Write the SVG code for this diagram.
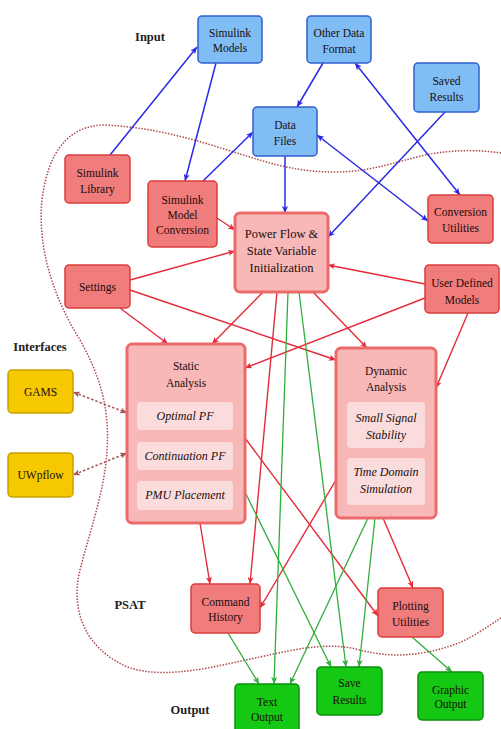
<svg xmlns="http://www.w3.org/2000/svg" width="501" height="729" viewBox="0 0 501 729">
<defs>
<style>
.t{font-family:"Liberation Serif","DejaVu Serif",serif;font-size:11.5px;fill:#1a0d0d;text-anchor:middle}
.it{font-style:italic;font-size:12px}
.lbl{font-family:"Liberation Serif","DejaVu Serif",serif;font-size:12.5px;font-weight:bold;fill:#222;text-anchor:middle}
.blue{fill:#80bdf5;stroke:#2f5fd0;stroke-width:1.5}
.red{fill:#f07c7c;stroke:#dc3c3c;stroke-width:1.5}
.big{fill:#f8b8b8;stroke:#ec6a6a;stroke-width:3}
.inner{fill:#fbdcdc;stroke:none}
.yel{fill:#f6c800;stroke:#c9a000;stroke-width:1.5}
.grn{fill:#14c814;stroke:#0a900a;stroke-width:1.5}
.eb{stroke:#2a2ae6;stroke-width:1.5;fill:none}
.er{stroke:#e42a3a;stroke-width:1.4;fill:none}
.eg{stroke:#2fae3a;stroke-width:1.3;fill:none}
.ed{stroke:#a8585a;stroke-width:1.6;stroke-dasharray:2.5,2;fill:none}
</style>
<marker id="mb" viewBox="0 0 8 8" refX="8" refY="4" markerWidth="7" markerHeight="7" markerUnits="userSpaceOnUse" orient="auto-start-reverse"><path d="M0,0.5 L8,4 L0,7.5 L2,4 z" fill="#2a2ae6"/></marker>
<marker id="mr" viewBox="0 0 8 8" refX="8" refY="4" markerWidth="7" markerHeight="7" markerUnits="userSpaceOnUse" orient="auto-start-reverse"><path d="M0,0.5 L8,4 L0,7.5 L2,4 z" fill="#e42a3a"/></marker>
<marker id="mg" viewBox="0 0 8 8" refX="8" refY="4" markerWidth="7" markerHeight="7" markerUnits="userSpaceOnUse" orient="auto-start-reverse"><path d="M0,0.5 L8,4 L0,7.5 L2,4 z" fill="#2fae3a"/></marker>
<marker id="md" viewBox="0 0 8 8" refX="8" refY="4" markerWidth="7" markerHeight="7" markerUnits="userSpaceOnUse" orient="auto-start-reverse"><path d="M0,0.5 L8,4 L0,7.5 L2,4 z" fill="#a8585a"/></marker>
</defs>
<rect width="501" height="729" fill="#ffffff"/>
<path id="psat-boundary" d="M501,153 C480,150 455,149 425,155 C395,162 370,172 335,172 C300,172 275,165 250,157 C210,145 165,128 105,125 C70,125 48,150 42,200 C37,250 55,300 80,340 C100,375 110,410 107,450 C105,490 90,530 80,570 C70,610 85,650 130,668 C170,680 220,665 260,657 C300,648 330,642 360,650 C390,658 420,656 450,646 C470,640 485,628 501,618" fill="none" stroke="#b04848" stroke-width="1.5" stroke-dasharray="1.5,1.5"/>
<g id="labels">
<text class="lbl" x="150" y="41">Input</text>
<text class="lbl" x="40" y="351">Interfaces</text>
<text class="lbl" x="130" y="609">PSAT</text>
<text class="lbl" x="190" y="714">Output</text>
</g>
<g id="connectors">
<path class="eb" d="M110,155 L197,47" marker-end="url(#mb)"/>
<path class="eb" d="M216,63 L185,181" marker-end="url(#mb)"/>
<path class="eb" d="M203,181 L253,132" marker-end="url(#mb)"/>
<path class="eb" d="M323,63 L297,107" marker-end="url(#mb)"/>
<path class="eb" d="M355,63 L460,195" marker-start="url(#mb)" marker-end="url(#mb)"/>
<path class="eb" d="M317,135 L428,221" marker-start="url(#mb)" marker-end="url(#mb)"/>
<path class="eb" d="M445,112 L328,237" marker-end="url(#mb)"/>
<path class="eb" d="M285,156 L285,213" marker-end="url(#mb)"/>
<path class="er" d="M217,218 L235,230" marker-end="url(#mr)"/>
<path class="er" d="M130,280 L235,251" marker-end="url(#mr)"/>
<path class="er" d="M425,284 L328,265" marker-end="url(#mr)"/>
<path class="er" d="M130,290 L336,360" marker-end="url(#mr)"/>
<path class="er" d="M120,308 L168,344" marker-end="url(#mr)"/>
<path class="er" d="M263,292 L212,344" marker-end="url(#mr)"/>
<path class="er" d="M425,298 L245,368" marker-end="url(#mr)"/>
<path class="er" d="M468,313 L436,388" marker-end="url(#mr)"/>
<path class="er" d="M313,292 L367,348" marker-end="url(#mr)"/>
<path class="er" d="M277,292 L250,584" marker-end="url(#mr)"/>
<path class="er" d="M200,523 L210,584" marker-end="url(#mr)"/>
<path class="er" d="M336,480 L260,608" marker-end="url(#mr)"/>
<path class="er" d="M245,438 L378,616" marker-end="url(#mr)"/>
<path class="er" d="M383,518 L413,588" marker-end="url(#mr)"/>
<path class="eg" d="M288,292 L274,684" marker-end="url(#mg)"/>
<path class="eg" d="M299,292 L346,667" marker-end="url(#mg)"/>
<path class="eg" d="M245,492 L331,667" marker-end="url(#mg)"/>
<path class="eg" d="M368,518 L290,684" marker-end="url(#mg)"/>
<path class="eg" d="M375,518 L359,667" marker-end="url(#mg)"/>
<path class="eg" d="M228,633 L259,684" marker-end="url(#mg)"/>
<path class="eg" d="M412,637 L452,672" marker-end="url(#mg)"/>
<path class="ed" d="M127,413 L73,392" marker-start="url(#md)" marker-end="url(#md)"/>
<path class="ed" d="M127,453 L73,475" marker-start="url(#md)" marker-end="url(#md)"/>
</g>
<g id="simulink-models"><rect class="blue" x="198" y="16" width="64" height="47" rx="4"/><text class="t" x="230" y="37">Simulink</text><text class="t" x="230" y="52">Models</text></g>
<g id="other-data-format"><rect class="blue" x="307" y="16" width="64" height="47" rx="4"/><text class="t" x="339" y="37">Other Data</text><text class="t" x="339" y="53">Format</text></g>
<g id="saved-results"><rect class="blue" x="414" y="63" width="65" height="49" rx="4"/><text class="t" x="446.5" y="85">Saved</text><text class="t" x="446.5" y="101">Results</text></g>
<g id="data-files"><rect class="blue" x="253" y="107" width="64" height="49" rx="4"/><text class="t" x="285" y="129">Data</text><text class="t" x="285" y="145">Files</text></g>
<g id="conversion-utilities"><rect class="red" x="428" y="195" width="65" height="48" rx="4"/><text class="t" x="460.5" y="216">Conversion</text><text class="t" x="460.5" y="232">Utilities</text></g>
<g id="simulink-library"><rect class="red" x="65" y="155" width="65" height="48" rx="4"/><text class="t" x="97.5" y="177">Simulink</text><text class="t" x="97.5" y="193">Library</text></g>
<g id="simulink-model-conversion"><rect class="red" x="148" y="181" width="69" height="66" rx="4"/><text class="t" x="182.5" y="204">Simulink</text><text class="t" x="182.5" y="219">Model</text><text class="t" x="182.5" y="234">Conversion</text></g>
<g id="power-flow"><rect class="big" x="235" y="213" width="93" height="79" rx="5"/><text class="t" x="281.5" y="238" style="font-size:12.5px">Power Flow &amp;</text><text class="t" x="281.5" y="255" style="font-size:12.5px">State Variable</text><text class="t" x="281.5" y="272" style="font-size:12.5px">Initialization</text></g>
<g id="settings"><rect class="red" x="65" y="265" width="65" height="43" rx="4"/><text class="t" x="97.5" y="291">Settings</text></g>
<g id="user-defined-models"><rect class="red" x="425" y="265" width="74" height="48" rx="4"/><text class="t" x="462" y="287">User Defined</text><text class="t" x="462" y="304">Models</text></g>
<g id="static-analysis"><rect class="big" x="127" y="344" width="118" height="179" rx="5"/><text class="t" x="186" y="370">Static</text><text class="t" x="186" y="387">Analysis</text>
<rect class="inner" x="137" y="402" width="96" height="28" rx="4"/><text class="t it" x="185" y="420">Optimal PF</text>
<rect class="inner" x="137" y="442" width="96" height="28" rx="4"/><text class="t it" x="185" y="460">Continuation PF</text>
<rect class="inner" x="137" y="481" width="96" height="29" rx="4"/><text class="t it" x="185" y="499">PMU Placement</text></g>
<g id="dynamic-analysis"><rect class="big" x="336" y="348" width="100" height="170" rx="5"/><text class="t" x="386" y="375">Dynamic</text><text class="t" x="386" y="391">Analysis</text>
<rect class="inner" x="347" y="402" width="78" height="46" rx="4"/><text class="t it" x="386" y="422">Small Signal</text><text class="t it" x="386" y="439">Stability</text>
<rect class="inner" x="347" y="458" width="78" height="47" rx="4"/><text class="t it" x="386" y="476">Time Domain</text><text class="t it" x="386" y="493">Simulation</text></g>
<g id="gams"><rect class="yel" x="8" y="370" width="65" height="43" rx="4"/><text class="t" x="40.5" y="396">GAMS</text></g>
<g id="uwpflow"><rect class="yel" x="8" y="453" width="65" height="44" rx="4"/><text class="t" x="40.5" y="479">UWpflow</text></g>
<g id="command-history"><rect class="red" x="191" y="584" width="69" height="49" rx="4"/><text class="t" x="225.5" y="606">Command</text><text class="t" x="225.5" y="621">History</text></g>
<g id="plotting-utilities"><rect class="red" x="378" y="588" width="65" height="49" rx="4"/><text class="t" x="410.5" y="610">Plotting</text><text class="t" x="410.5" y="626">Utilities</text></g>
<g id="text-output"><rect class="grn" x="235" y="684" width="64" height="50" rx="4"/><text class="t" x="267" y="706">Text</text><text class="t" x="267" y="721">Output</text></g>
<g id="save-results"><rect class="grn" x="317" y="667" width="65" height="48" rx="4"/><text class="t" x="349.5" y="687">Save</text><text class="t" x="349.5" y="704">Results</text></g>
<g id="graphic-output"><rect class="grn" x="418" y="672" width="65" height="48" rx="4"/><text class="t" x="450.5" y="694">Graphic</text><text class="t" x="450.5" y="708">Output</text></g>
</svg>
